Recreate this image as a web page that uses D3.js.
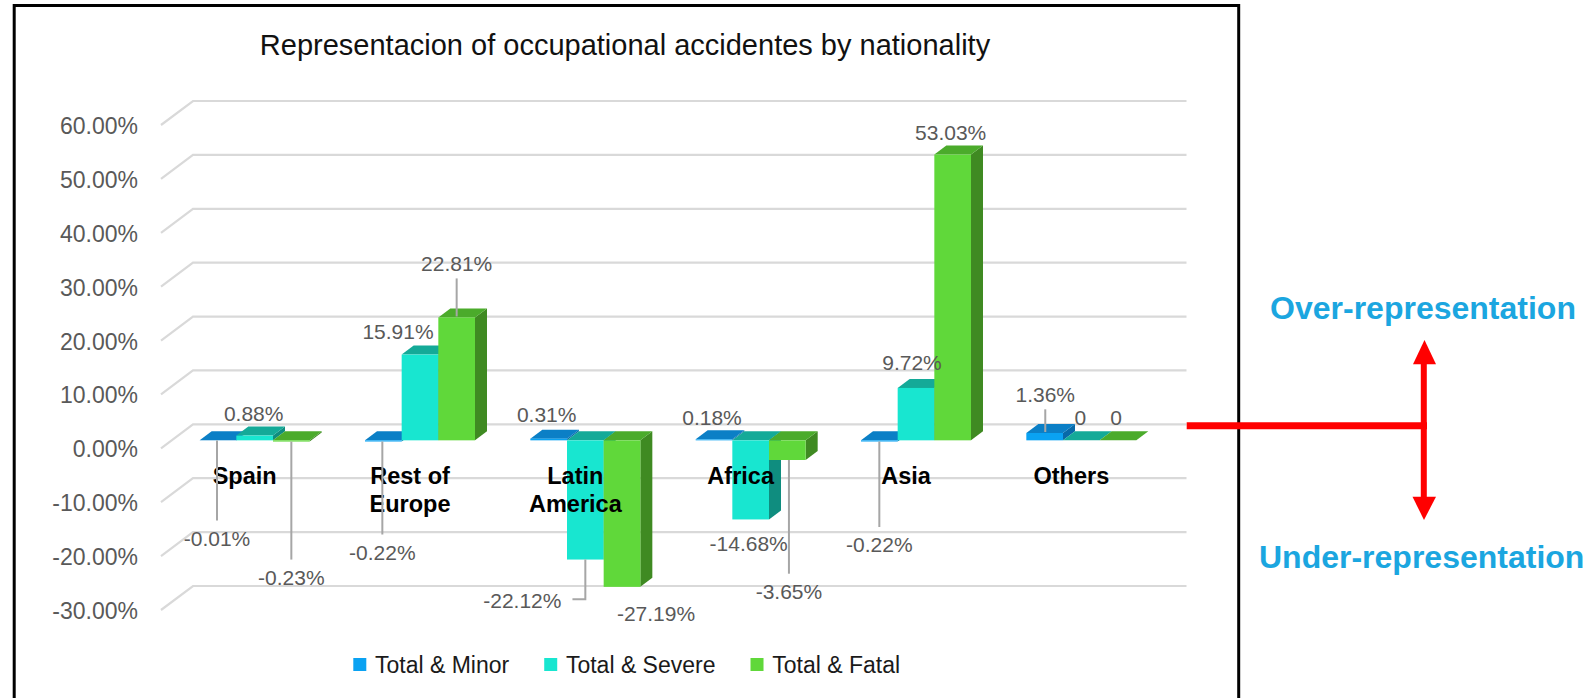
<!DOCTYPE html>
<html><head><meta charset="utf-8">
<script src="https://cdn.jsdelivr.net/npm/d3@7"></script>
<style>body{margin:0;background:#fff}svg{display:block}text{font-family:"Liberation Sans",Arial,sans-serif}</style>
</head><body><svg id="c" width="1590" height="698"></svg>
<script>
const categories = ["Spain","Rest of Europe","Latin America","Africa","Asia","Others"];
const categoryLines = [["Spain"],["Rest of","Europe"],["Latin","America"],["Africa"],["Asia"],["Others"]];
const seriesNames = ["Total & Minor","Total & Severe","Total & Fatal"];
const minorValues = [-0.01,-0.22,0.31,0.18,-0.22,1.36];
const severeValues = [0.88,15.91,-22.12,-14.68,9.72,0];
const fatalValues = [-0.23,22.81,-27.19,-3.65,53.03,0];
const tickValues = [-30,-20,-10,0,10,20,30,40,50,60];
const titleText = "Representacion of occupational accidentes by nationality";
const overText = "Over-representation";
const underText = "Under-representation";

// label placement: pixel offsets from the bar end, and leader-line style (layout only)
const labelOffsets = [
  [[-1,98,"down"],[-1,111,"down"],[-2,-23.6,null],[-2,-21.6,null],[0,103.5,"down"],[0.6,-38.7,"up"]],
  [[-1,-22.3,null],[-22,-22.8,null],[-63,41.5,"elbow"],[-2,24.6,null],[-4,-25,null],[-1,-22.6,null]],
  [[0,136,"down"],[0,-54,"up"],[34,27,null],[1.6,131.7,"down"],[-2,-22,null],[-2,-22.6,null]]
];

const seriesValues = [minorValues, severeValues, fatalValues];
const frontCol = ["#0aa2f2","#18e6d0","#60d83a"];
const topCol   = ["#0b7fc6","#14aa98","#4bab2b"];
const sideCol  = ["#0869a8","#0f8d7f","#3f8a22"];

const svg = d3.select("#c");

// scales
const x = d3.scaleBand().domain(categories).range([172,1164]);
const xs = d3.scaleBand().domain(seriesNames).range([-55,55]);
const y = d3.scaleLinear().domain([-30,60]).range([586,101]); // back wall
const yF = v => y(v) + 16;        // bar front plane
const wallDX = -32, wallDY = 24;  // side wall depth
const barDX = 12, barDY = -9;     // bar depth
const wallX0 = x.range()[0] + 21, wallX1 = x.range()[1] + 22.5;

// border
svg.append("rect").attr("x",14.2).attr("y",5.5).attr("width",1224.5).attr("height",760)
  .attr("fill","none").attr("stroke","#000").attr("stroke-width",3);

// title
svg.append("text").attr("x",625).attr("y",55).attr("text-anchor","middle")
  .attr("font-size",29).attr("fill","#111").text(titleText);

// gridlines
svg.append("g").selectAll("path").data(tickValues).join("path")
  .attr("d", v => `M${wallX0+wallDX},${y(v)+wallDY}L${wallX0},${y(v)}L${wallX1},${y(v)}`)
  .attr("fill","none").attr("stroke","#d9d9d9").attr("stroke-width",2.2);

// tick labels
svg.append("g").selectAll("text").data(tickValues).join("text")
  .attr("x", wallX0 - 55).attr("y", v => y(v) + wallDY + 1).attr("dy","0.35em")
  .attr("text-anchor","end").attr("font-size",23).attr("fill","#595959")
  .text(v => v.toFixed(2) + "%");

// bars
const gBars = svg.append("g");
categories.forEach((c, i) => {
  seriesNames.forEach((s, k) => {
    const v = seriesValues[k][i];
    const x0 = x(c) + x.bandwidth()/2 + xs(s);
    const w = xs.bandwidth();
    const yT = Math.min(yF(v), yF(0)), yB = Math.max(yF(v), yF(0));
    const g = gBars.append("g");
    g.append("path").attr("fill", sideCol[k])
      .attr("d", `M${x0+w},${yT}L${x0+w+barDX},${yT+barDY}L${x0+w+barDX},${yB+barDY}L${x0+w},${yB}Z`);
    g.append("path").attr("fill", topCol[k])
      .attr("d", `M${x0},${yT}L${x0+barDX},${yT+barDY}L${x0+w+barDX},${yT+barDY}L${x0+w},${yT}Z`);
    g.append("rect").attr("fill", frontCol[k]).attr("x", x0).attr("y", yT)
      .attr("width", w).attr("height", Math.max(0, yB - yT));
  });
});

// category labels
categories.forEach((c, i) => {
  const t = svg.append("text").attr("x", x(c) + x.bandwidth()/2 - 10).attr("y", 476)
    .attr("text-anchor","middle").attr("font-size",23.5).attr("font-weight","bold").attr("fill","#000");
  categoryLines[i].forEach((ln, j) => {
    t.append("tspan").attr("x", x(c) + x.bandwidth()/2 - 10).attr("y", 476 + j*27.5)
      .attr("dy","0.35em").text(ln);
  });
});

// data labels with leader lines
const gLab = svg.append("g");
categories.forEach((c, i) => {
  seriesNames.forEach((s, k) => {
    const v = seriesValues[k][i];
    const x0 = x(c) + x.bandwidth()/2 + xs(s);
    const ax = x0 + xs.bandwidth()/2, ay = yF(v);
    const [dx, dy, leader] = labelOffsets[k][i];
    const lx = ax + dx, ly = ay + dy;
    const txt = v === 0 ? "0" : v.toFixed(2) + "%";
    const t = gLab.append("text").attr("x", lx).attr("y", ly).attr("dy","0.35em")
      .attr("text-anchor","middle").attr("font-size",21).attr("fill","#595959").text(txt);
    const st = {stroke:"#a6a6a6", "stroke-width":2, fill:"none"};
    let d = null;
    if (leader === "down") d = `M${lx},${ay}L${lx},${ly-18}`;
    else if (leader === "up") d = `M${lx},${ly+15}L${lx},${ay-1}`;
    else if (leader === "elbow") {
      const tw = t.node().getComputedTextLength();
      d = `M${ax},${ay}L${ax},${ly-1.7}L${lx+tw/2+11},${ly-1.7}`;
    }
    if (d) gLab.append("path").attr("d", d).attr("stroke", st.stroke)
      .attr("stroke-width", st["stroke-width"]).attr("fill", "none");
  });
});

// legend
let lxPos = 353.3;
const legY = 664.5;
seriesNames.forEach((s, k) => {
  svg.append("rect").attr("x", lxPos).attr("y", legY - 6.5).attr("width", 13).attr("height", 13)
    .attr("fill", frontCol[k]);
  const t = svg.append("text").attr("x", lxPos + 21.7).attr("y", legY).attr("dy","0.35em")
    .attr("font-size",23).attr("fill","#1a1a1a").text(s);
  lxPos += 21.7 + t.node().getComputedTextLength() + 35;
});

// annotation
const red = "#ff0000";
svg.append("line").attr("x1",1186.7).attr("x2",1427).attr("y1",425.7).attr("y2",425.7)
  .attr("stroke",red).attr("stroke-width",7);
svg.append("line").attr("x1",1423.8).attr("x2",1423.8).attr("y1",362).attr("y2",499)
  .attr("stroke",red).attr("stroke-width",6);
svg.append("path").attr("d","M1424.5,340L1436,364.3L1413,364.3Z").attr("fill",red);
svg.append("path").attr("d","M1412.5,496.7L1436,496.7L1424,520Z").attr("fill",red);
svg.append("text").attr("x",1423).attr("y",308).attr("dy","0.35em").attr("text-anchor","middle")
  .attr("font-size",32).attr("font-weight","bold").attr("fill","#1ba6e0").text(overText);
svg.append("text").attr("x",1421.7).attr("y",556.7).attr("dy","0.35em").attr("text-anchor","middle")
  .attr("font-size",32).attr("font-weight","bold").attr("fill","#1ba6e0").text(underText);
</script>
</body></html>
